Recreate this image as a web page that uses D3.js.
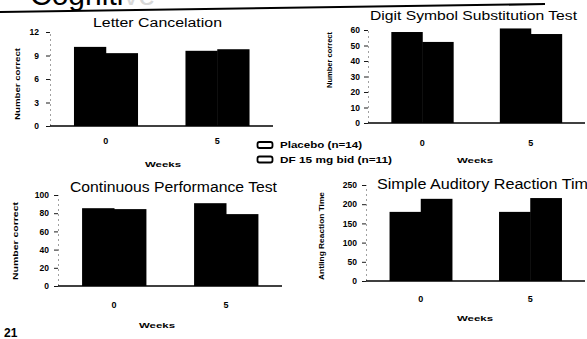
<!DOCTYPE html>
<html>
<head>
<meta charset="utf-8">
<script src="https://cdn.jsdelivr.net/npm/d3@7"></script>
<style>
  html, body { margin: 0; padding: 0; background: #fff; }
  svg { display: block; font-family: "Liberation Sans", Arial, Helvetica, sans-serif; }
</style>
</head>
<body>
<svg id="chart" width="587" height="339"></svg>
<script>
// Shared categories and series
const weeks = ["0", "5"];
const groups = ["Placebo (n=14)", "DF 15 mg bid (n=11)"];

// Letter Cancelation (number correct)
const letterPlacebo = [10.1, 9.6];
const letterDF = [9.3, 9.8];
const letterTicks = [0, 3, 6, 9, 12];

// Digit Symbol Substitution Test (number correct)
const dsstPlacebo = [58.7, 61.0];
const dsstDF = [52.3, 57.4];
const dsstTicks = [0, 10, 20, 30, 40, 50, 60];

// Continuous Performance Test (number correct)
const cptPlacebo = [85.5, 91.0];
const cptDF = [84.5, 79.0];
const cptTicks = [0, 20, 40, 60, 80, 100];

// Simple Auditory Reaction Time
const sartPlacebo = [180, 180];
const sartDF = [214, 216];
const sartTicks = [0, 50, 100, 150, 200, 250];

const svg = d3.select("#chart");

// Slide heading, mostly above the visible area, with a rule under it
svg.append("text")
  .attr("x", 30).attr("y", 5)
  .attr("font-size", 30)
  .attr("fill", "#000")
  .text("Cogniti")
  .append("tspan").attr("fill", "#d8d8d8").text("ve");
svg.append("line")
  .attr("x1", 0).attr("x2", 545).attr("y1", 12).attr("y2", 4)
  .attr("stroke", "#000").attr("stroke-width", 2.2);

function drawPanel(p) {
  const g = svg.append("g");
  const y = d3.scaleLinear().domain([0, d3.max(p.ticks)]).range(p.yRange);
  const x0 = d3.scaleBand().domain(weeks).range(p.xRange)
    .paddingInner(0.43).paddingOuter(0.215);
  const x1 = d3.scaleBand().domain(groups).range([0, x0.bandwidth()]);

  const rows = weeks.map((w, i) => ({
    week: w,
    vals: [{ k: groups[0], v: p.placebo[i] }, { k: groups[1], v: p.df[i] }]
  }));

  // bars
  g.selectAll("g.wk").data(rows).join("g")
    .attr("transform", d => `translate(${x0(d.week)},0)`)
    .selectAll("rect").data(d => d.vals).join("rect")
    .attr("x", d => x1(d.k))
    .attr("width", x1.bandwidth() + 0.5)
    .attr("y", d => y(d.v))
    .attr("height", d => y(0) - y(d.v))
    .attr("fill", "#000");

  // value axis
  const axisX = p.xRange[0];
  const yAxis = g.append("g").attr("transform", `translate(${axisX},0)`)
    .call(d3.axisLeft(y).tickValues(p.ticks).tickSize(4).tickPadding(p.tickPad));
  yAxis.select(".domain").attr("stroke", "#888").attr("stroke-dasharray", "2,3").attr("stroke-width", 0.8);
  yAxis.selectAll(".tick line").attr("stroke", "#000").attr("stroke-width", 0.9);
  yAxis.selectAll(".tick text")
    .attr("font-size", 8.5).attr("font-weight", "bold")
    .attr("font-family", "'Liberation Sans', Arial, sans-serif").attr("fill", "#000");

  // category baseline
  g.append("line")
    .attr("x1", axisX).attr("x2", p.xRange[1])
    .attr("y1", y(0)).attr("y2", y(0))
    .attr("stroke", "#000").attr("stroke-width", 1.6);

  // category labels
  g.selectAll("text.wk").data(weeks).join("text")
    .attr("class", "wk")
    .attr("x", d => x0(d) + x0.bandwidth() / 2)
    .attr("y", p.tickY)
    .attr("text-anchor", "middle")
    .attr("font-size", 9).attr("font-weight", "bold")
    .text(d => d);

  g.append("text")
    .attr("x", p.weeksX).attr("y", p.weeksY)
    .attr("text-anchor", "middle")
    .attr("font-size", 8).attr("font-weight", "bold")
    .attr("textLength", 36).attr("lengthAdjust", "spacingAndGlyphs")
    .text("Weeks");

  // value-axis title
  g.append("text")
    .attr("transform", `translate(${p.yLabelX},${p.yLabelY}) rotate(-90)`)
    .attr("text-anchor", "middle")
    .attr("dy", "0.35em")
    .attr("font-size", 8).attr("font-weight", "bold")
    .attr("textLength", p.yLabelLen).attr("lengthAdjust", "spacingAndGlyphs")
    .text(p.yLabel);

  // panel title
  g.append("text")
    .attr("x", p.titleX).attr("y", p.titleY)
    .attr("text-anchor", p.titleAnchor)
    .attr("font-size", p.titleSize)
    .attr("textLength", p.titleLen).attr("lengthAdjust", "spacingAndGlyphs")
    .text(p.title);
}

drawPanel({
  title: "Letter Cancelation", titleX: 93, titleY: 27, titleAnchor: "start", titleSize: 12.5, titleLen: 129,
  placebo: letterPlacebo, df: letterDF, ticks: letterTicks,
  xRange: [50, 273], yRange: [126, 32], tickPad: 7,
  tickY: 144, weeksX: 163, weeksY: 167,
  yLabel: "Number correct", yLabelX: 17, yLabelY: 84, yLabelLen: 72
});

drawPanel({
  title: "Digit Symbol Substitution Test", titleX: 370, titleY: 20, titleAnchor: "start", titleSize: 13, titleLen: 207,
  placebo: dsstPlacebo, df: dsstDF, ticks: dsstTicks,
  xRange: [368, 585], yRange: [123, 30], tickPad: 4,
  tickY: 146, weeksX: 475, weeksY: 163,
  yLabel: "Number correct", yLabelX: 329, yLabelY: 60, yLabelLen: 56
});

drawPanel({
  title: "Continuous Performance Test", titleX: 70, titleY: 192, titleAnchor: "start", titleSize: 14, titleLen: 207,
  placebo: cptPlacebo, df: cptDF, ticks: cptTicks,
  xRange: [58, 282], yRange: [286, 195], tickPad: 5,
  tickY: 308, weeksX: 157, weeksY: 328,
  yLabel: "Number correct", yLabelX: 15, yLabelY: 241, yLabelLen: 78
});

drawPanel({
  title: "Simple Auditory Reaction Time", titleX: 377, titleY: 189, titleAnchor: "start", titleSize: 14, titleLen: 220,
  placebo: sartPlacebo, df: sartDF, ticks: sartTicks,
  xRange: [366, 585], yRange: [281, 185], tickPad: 5,
  tickY: 302, weeksX: 475, weeksY: 321,
  yLabel: "Antling Reaction Time", yLabelX: 321, yLabelY: 236, yLabelLen: 88
});

// legend
const legend = svg.append("g");
const legendRows = [
  { label: groups[0], y: 142, len: 82 },
  { label: groups[1], y: 156.5, len: 112 }
];
legend.selectAll("rect").data(legendRows).join("rect")
  .attr("x", 257.5).attr("y", d => d.y)
  .attr("width", 15).attr("height", 6)
  .attr("rx", 2)
  .attr("fill", "#fff").attr("stroke", "#000").attr("stroke-width", 1.8);
legend.selectAll("text").data(legendRows).join("text")
  .attr("x", 280).attr("y", d => d.y + 6)
  .attr("font-size", 8.5).attr("font-weight", "bold")
  .attr("textLength", d => d.len).attr("lengthAdjust", "spacingAndGlyphs")
  .text(d => d.label);

// page number
svg.append("text")
  .attr("x", 4).attr("y", 337)
  .attr("font-size", 12).attr("font-weight", "bold")
  .text("21");
</script>
</body>
</html>
